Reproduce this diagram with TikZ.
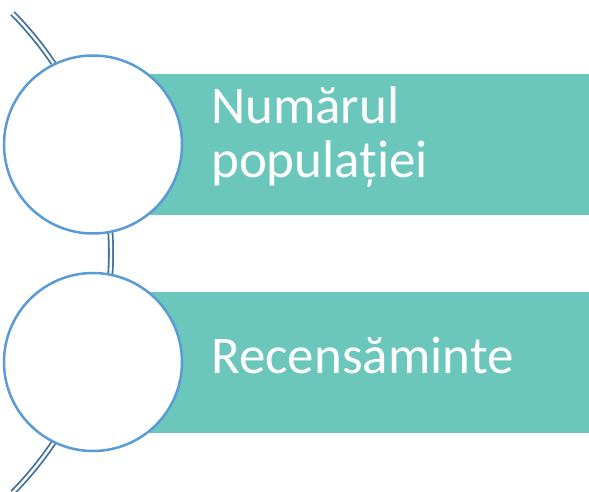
\documentclass[tikz,border=0pt]{standalone}
\usepackage{fontspec}
\setmainfont{Carlito}
\usetikzlibrary{positioning}
\definecolor{bandteal}{HTML}{6BC6BB}
\definecolor{ringblue}{HTML}{5B9BD5}
\definecolor{stemblue}{HTML}{41719C}
\begin{document}
\begin{tikzpicture}[x=1pt, y=1pt,
    band/.style={fill=bandteal, minimum width=496pt, minimum height=141pt, anchor=west, inner sep=0pt},
    ringnode/.style={circle, draw=ringblue, line width=2.5pt, fill=white, minimum size=178pt, inner sep=0pt},
    bandtext/.style={text=white, anchor=base west, align=left, inner sep=0pt, font=\fontsize{53}{54}\selectfont}]
        \useasboundingbox (0,0) rectangle (589,-492);
        % Draw the double stem behind the circles
        \draw[stemblue, line width=1.8pt, double=white, double distance=2.4pt]
            (12.6,-13.4) arc[start angle=44.65, end angle=-44.65, radius=341];
        % Draw the bands and the circles
        \foreach \i/\y in {1/144.5, 2/362} {
            \node[band] (b\i) at (93,-\y) {};
            \node[ringnode] (c\i) at (93,-\y) {};
        }
        % Draw the labels
        \node[bandtext] (t1) at (211,-177) {Numărul\\populației};
        \node[bandtext] (t2) at (211,-373) {Recensăminte};
    \end{tikzpicture}
\end{document}
